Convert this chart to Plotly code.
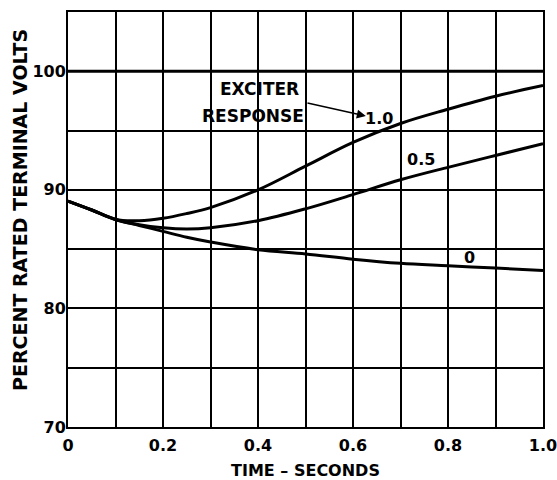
import plotly.graph_objects as go

# time in seconds
t = [0.0, 0.05, 0.1, 0.15, 0.2, 0.25, 0.3, 0.4, 0.5, 0.6, 0.7, 0.8, 0.9, 1.0]

# percent rated terminal volts for each exciter response
v_0 = [89.05, 88.3, 87.5, 87.0, 86.5, 86.0, 85.6, 84.95, 84.6, 84.15, 83.8, 83.6, 83.4, 83.2]
v_05 = [89.05, 88.3, 87.5, 87.05, 86.8, 86.7, 86.8, 87.4, 88.4, 89.6, 90.85, 91.9, 92.9, 93.9]
v_10 = [89.05, 88.3, 87.5, 87.4, 87.6, 88.0, 88.5, 90.0, 92.0, 94.0, 95.6, 96.8, 97.9, 98.8]

x_ticks = [0, 0.1, 0.2, 0.3, 0.4, 0.5, 0.6, 0.7, 0.8, 0.9, 1.0]
x_labels = ['0', '', '0.2', '', '0.4', '', '0.6', '', '0.8', '', '1.0']
y_ticks = [70, 75, 80, 85, 90, 95, 100]
y_labels = ['70', '', '80', '', '90', '', '100']

font = 'DejaVu Sans'
ink = 'black'
lbl = {'family': font, 'size': 16, 'color': ink, 'weight': 'bold'}
big = {'family': font, 'size': 17, 'color': ink, 'weight': 'bold'}

fig = go.Figure()
for v in [v_0, v_05, v_10]:
    fig.add_trace(go.Scatter(x=t, y=v, mode='lines', line_shape='spline',
                             line={'color': ink, 'width': 3}, showlegend=False,
                             hoverinfo='skip'))

# heavy rated-voltage line
fig.add_hline(y=100, line_color=ink, line_width=3)

fig.add_annotation(x=0.404, y=98.5, text='EXCITER', showarrow=False, font=big)
fig.add_annotation(x=0.389, y=96.2, text='RESPONSE', showarrow=False, font=big)
fig.add_annotation(x=0.627, y=96.23, ax=0.501, ay=97.36, axref='x', ayref='y',
                   text='', showarrow=True, arrowhead=2, arrowsize=1.2,
                   arrowwidth=1.5, arrowcolor=ink)
fig.add_annotation(x=0.655, y=96.0, text='1.0', showarrow=False, font=lbl)
fig.add_annotation(x=0.743, y=92.6, text='0.5', showarrow=False, font=lbl)
fig.add_annotation(x=0.846, y=84.3, text='0', showarrow=False, font=lbl)

# y title sits a bit above the middle of the axis in the original
fig.add_annotation(xref='paper', yref='paper', x=0, y=0.523, xshift=-48,
                   xanchor='center', yanchor='middle',
                   text='PERCENT RATED TERMINAL VOLTS', textangle=-90,
                   showarrow=False,
                   font={'family': font, 'size': 19, 'color': ink, 'weight': 'bold'})

fig.update_xaxes(range=[0, 1], tickvals=x_ticks, ticktext=x_labels,
                 showgrid=True, gridcolor=ink, gridwidth=1.5,
                 showline=True, linecolor=ink, linewidth=2, mirror=True,
                 zeroline=False, ticks='', ticklabelstandoff=3, automargin=False,
                 ticklabeloverflow='allow', tickfont=lbl,
                 title={'text': 'TIME \u2013 SECONDS', 'standoff': 22, 'font': lbl})
fig.update_yaxes(range=[70, 105], tickvals=y_ticks, ticktext=y_labels,
                 showgrid=True, gridcolor=ink, gridwidth=1.5,
                 showline=True, linecolor=ink, linewidth=2, mirror=True,
                 zeroline=False, ticks='', ticklabelstandoff=-3, automargin=False,
                 ticklabeloverflow='allow', tickfont=lbl)

fig.update_layout(width=557, height=480, plot_bgcolor='white', paper_bgcolor='white',
                  margin={'l': 68, 'r': 14, 't': 12, 'b': 53})

# drop the browser's default body margin so the figure fills the window
fig.write_html('out.html', config={'displayModeBar': False},
               post_script="document.body.style.margin = '0';")
